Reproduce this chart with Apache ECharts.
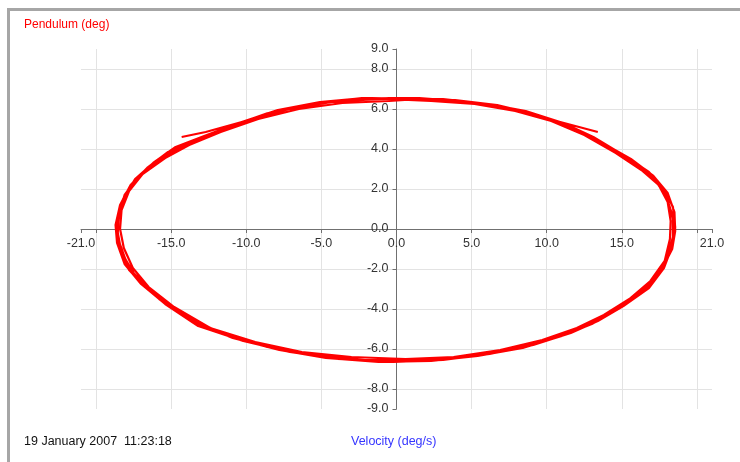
<!DOCTYPE html>
<html>
<head>
<meta charset="utf-8">
<script src="https://cdn.jsdelivr.net/npm/echarts@6/dist/echarts.min.js"></script>
<style>
    html, body { margin: 0; padding: 0; background: #ffffff; }
    #target { width: 740px; height: 462px; }
</style>
</head>
<body>
<div id="target"></div>
<script>
    // tick / label positions
    const xTicks = [-21, -20, -15, -10, -5, 0, 5, 10, 15, 20, 21]
    const xLabels = [-21, -15, -10, -5, 0, 5, 10, 15, 21]
    const yTicks = [-9, -8, -6, -4, -2, 0, 2, 4, 6, 8, 9]
    const yLabels = [-9, -8, -6, -4, -2, 0, 2, 4, 6, 8, 9]

    // [velocity, angle]
    const startPts = [[13.4, 4.85], [8.4, 5.85], [5.5, 6.3], [2.4, 6.5]]
    const loop1 = [[0.3,6.55],[-2.8,6.5],[-5.8,6.2],[-8.6,5.78],[-11.2,5.1],[-13.4,4.45],[-15.2,3.85],[-16.6,3.05],[-17.7,2.2],[-18.4,1.2],[-18.7,0.2],[-18.6,-0.7],[-18.1,-1.75],[-17.0,-2.75],[-15.4,-3.75],[-13.2,-4.85],[-10.2,-5.6],[-7.1,-6.15],[-3.9,-6.5],[-0.2,-6.65],[3.1,-6.55],[6.2,-6.25],[9.1,-5.8],[11.6,-5.2],[13.4,-4.6],[15.1,-3.85],[16.8,-2.95],[17.8,-1.95],[18.4,-0.75],[18.55,0.1],[18.4,1.1],[17.8,2.0],[16.8,2.85],[15.2,3.65],[13.1,4.6],[11.1,5.3],[8.6,5.9],[6.1,6.25],[3.1,6.5]]
    const loop2 = [[-1.4,6.5],[-4.4,6.35],[-7.2,6.0],[-9.8,5.45],[-12.3,4.75],[-14.3,4.2],[-15.9,3.4],[-17.2,2.6],[-18.1,1.7],[-18.5,0.7],[-18.55,-0.2],[-18.3,-1.2],[-17.5,-2.2],[-16.2,-3.2],[-14.4,-4.2],[-11.7,-5.2],[-8.6,-5.9],[-5.5,-6.3],[-2.1,-6.55],[1.5,-6.55],[4.6,-6.4],[7.6,-6.0],[10.3,-5.45],[12.5,-4.85],[14.2,-4.2],[16.0,-3.35],[17.3,-2.4],[18.1,-1.3],[18.45,-0.3],[18.4,0.6],[18.0,1.55],[17.3,2.35],[16.0,3.25],[14.1,4.1],[12.0,4.95],[9.7,5.6],[7.3,6.05],[4.5,6.35],[1.6,6.5]]
    const loop3 = [[-0.5,6.4],[-3.6,6.3],[-6.5,6.0],[-9.2,5.5],[-11.7,4.85],[-13.8,4.2],[-15.4,3.55],[-16.9,2.75],[-17.8,1.9],[-18.3,0.95],[-18.4,0.0],[-18.15,-0.95],[-17.55,-1.95],[-16.5,-2.9],[-14.8,-3.9],[-12.4,-4.95],[-9.4,-5.65],[-6.3,-6.15],[-3.0,-6.4],[0.6,-6.5],[3.8,-6.4],[6.9,-6.05],[9.7,-5.55],[12.0,-4.95],[13.8,-4.3],[15.5,-3.5],[16.9,-2.6],[17.85,-1.6],[18.2,-0.5],[18.25,0.4],[18.05,1.35],[17.45,2.2],[16.3,2.95],[14.6,3.8],[12.5,4.7],[10.3,5.4],[7.9,5.9],[5.2,6.25],[2.3,6.4]]
    const loop4 = [[-2.2,6.55],[-5.1,6.35],[-7.9,5.95],[-10.5,5.3],[-12.8,4.65],[-14.7,4.1],[-16.2,3.3],[-17.4,2.5],[-18.2,1.5],[-18.6,0.5],[-18.55,-0.45],[-18.05,-1.5],[-17.25,-2.5],[-15.8,-3.5],[-13.8,-4.55],[-10.9,-5.45],[-7.8,-6.05],[-4.7,-6.45],[-1.2,-6.65],[2.3,-6.6],[5.4,-6.35],[8.4,-5.95],[11.0,-5.35],[13.0,-4.75],[14.7,-4.0],[16.4,-3.15],[17.6,-2.1],[18.35,-1.0],[18.55,-0.1],[18.5,0.85],[18.05,1.8],[17.1,2.65],[15.6,3.5],[13.6,4.35],[11.5,5.15],[9.2,5.75],[6.7,6.2],[3.9,6.45],[0.9,6.55]]
    const loop5 = [[-1.0,6.5],[-4.0,6.4],[-6.9,6.05],[-9.5,5.5],[-12.0,4.8],[-14.0,4.2],[-15.6,3.5],[-17.0,2.7],[-17.95,1.8],[-18.45,0.8],[-18.6,-0.15],[-18.35,-1.1],[-17.8,-2.05],[-16.6,-3.0],[-14.9,-4.0],[-12.2,-5.05],[-9.2,-5.75],[-6.0,-6.25],[-2.7,-6.55],[0.9,-6.6],[4.1,-6.45],[7.2,-6.1],[10.0,-5.55],[12.2,-4.95],[14.0,-4.3],[15.7,-3.5],[17.1,-2.55],[18.0,-1.45],[18.4,-0.4],[18.4,0.5],[18.05,1.45],[17.4,2.3],[16.2,3.1],[14.4,3.95],[12.2,4.85],[10.0,5.5],[7.5,6.0],[4.7,6.35],[1.9,6.5]]
    const endPts = [[-1.2,6.5],[-4.3,6.35],[-7.5,5.95],[-10.3,5.35],[-12.7,4.85],[-14.3,4.6]]

    const trace = [].concat(startPts, loop1, loop2, loop3, loop4, loop5, endPts)

    const target = document.getElementById('target')
    const mChart = echarts.init(target, null, {renderer: 'canvas'})

    const font = 'Liberation Sans, Arial, sans-serif'
    const axisFont = {
        color: '#333333',
        fontSize: 12.5,
        fontFamily: font
    }

    const option = {
        animation: false,
        backgroundColor: '#ffffff',
        grid: {
            left: 81,
            right: 28,
            top: 49,
            bottom: 53
        },
        graphic: [
            // window frame
            {type: 'rect', left: 7, top: 8, shape: {width: 733, height: 3}, style: {fill: '#a6a6a6'}},
            {type: 'rect', left: 7, top: 8, shape: {width: 3, height: 454}, style: {fill: '#a6a6a6'}},
            {type: 'text', left: 24, top: 19, style: {text: 'Pendulum (deg)', fill: '#ff0000', fontSize: 12, fontFamily: font}},
            {type: 'text', left: 351, top: 435, style: {text: 'Velocity (deg/s)', fill: '#3535ff', fontSize: 12.5, fontFamily: font}},
            {type: 'text', left: 24, top: 435, style: {text: '19 January 2007  11:23:18', fill: '#111111', fontSize: 12.5, fontFamily: font}}
        ],
        // x 轴 (moved up to y = 0)
        xAxis: {
            type: 'value',
            min: -21,
            max: 21,
            position: 'bottom',
            offset: -180,
            axisLine: {
                onZero: false,
                lineStyle: {color: '#707070', width: 1}
            },
            axisTick: {
                show: true,
                length: 4,
                customValues: xTicks,
                lineStyle: {color: '#707070'}
            },
            axisLabel: Object.assign({
                margin: 8,
                customValues: xLabels,
                formatter: v => v.toFixed(1)
            }, axisFont),
            splitLine: {
                show: true,
                showMinLine: false,
                showMaxLine: false,
                lineStyle: {color: '#e3e3e3'}
            }
        },
        // y 轴 (moved right to x = 0)
        yAxis: {
            type: 'value',
            min: -9,
            max: 9,
            position: 'left',
            offset: -315.5,
            axisLine: {
                onZero: false,
                lineStyle: {color: '#707070', width: 1}
            },
            axisTick: {
                show: true,
                length: 4,
                customValues: yTicks,
                lineStyle: {color: '#707070'}
            },
            axisLabel: Object.assign({
                margin: 8,
                customValues: yLabels,
                formatter: v => v.toFixed(1)
            }, axisFont),
            splitLine: {
                show: true,
                showMinLine: false,
                showMaxLine: false,
                lineStyle: {color: '#e3e3e3'}
            }
        },
        series: [{
            type: 'line',
            data: trace,
            showSymbol: false,
            symbol: 'none',
            smooth: false,
            z: 3,
            lineStyle: {color: '#ff0000', width: 2.2}
        }]
    }
    mChart.setOption(option)
    window.addEventListener('resize', function() {
        mChart.resize()
    })
</script>
</body>
</html>
